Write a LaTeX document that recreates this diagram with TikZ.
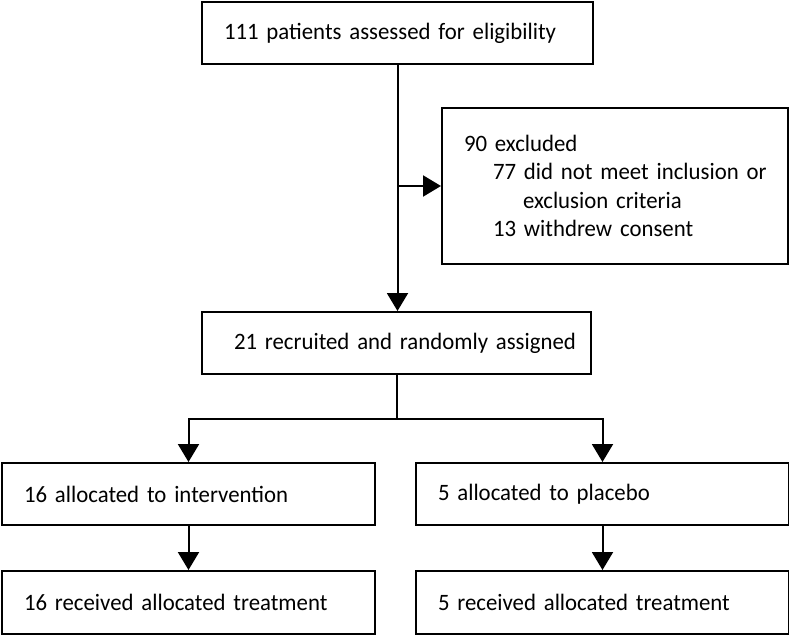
\documentclass[tikz,border=0pt]{standalone}
\usepackage{fontspec}
\setmainfont{Carlito}[FakeStretch=0.97]
\usetikzlibrary{positioning,arrows.meta}
\tikzstyle{block} = [rectangle, draw, line width=2pt, anchor=north west, align=left, inner xsep=22pt, inner ysep=0pt, minimum height=62pt, font=\fontsize{23.5}{28.5}\selectfont]
\tikzstyle{line} = [draw, line width=2pt, -{Triangle[length=18pt, width=21pt]}]

\begin{document}
\begin{tikzpicture}[x=1pt, y=-1pt]
	\useasboundingbox (0,0) rectangle (789,634);
	\node[block, text width=347pt] (elig) at (201,1) {\mbox{111 patients assessed for eligibility}};
	\node[block, text width=302pt, minimum height=156pt] (excl) at (441,107) {90 excluded\\
		\hspace*{29pt}\mbox{77 did not meet inclusion or}\\
		\hspace*{59pt}exclusion criteria\\
		\hspace*{29pt}13 withdrew consent};
	\node[block, inner xsep=16pt, text width=357pt] (rand) at (201,311) {\hspace*{16pt}\mbox{21 recruited and randomly assigned}};
	\node[block, text width=329pt] (int) at (1,462) {16 allocated to intervention};
	\node[block, text width=329pt] (plac) at (415,462) {5 allocated to placebo};
	\node[block, text width=329pt, minimum height=63pt] (recint) at (1,570) {16 received allocated treatment};
	\node[block, text width=329pt, minimum height=63pt] (recplac) at (415,570) {5 received allocated treatment};
	
	\path[line] (elig.south) -- (elig.south |- rand.north);
	\path[line] (elig.south |- excl.west) -- (excl.west);
	\draw[line width=2pt] (rand.south) -- ++(0,44) coordinate (split);
	\path[line] (split) -| (int.north);
	\path[line] (split) -| (plac.north);
	\path[line] (int.south) -- (recint.north);
	\path[line] (plac.south) -- (recplac.north);
\end{tikzpicture}
\end{document}
